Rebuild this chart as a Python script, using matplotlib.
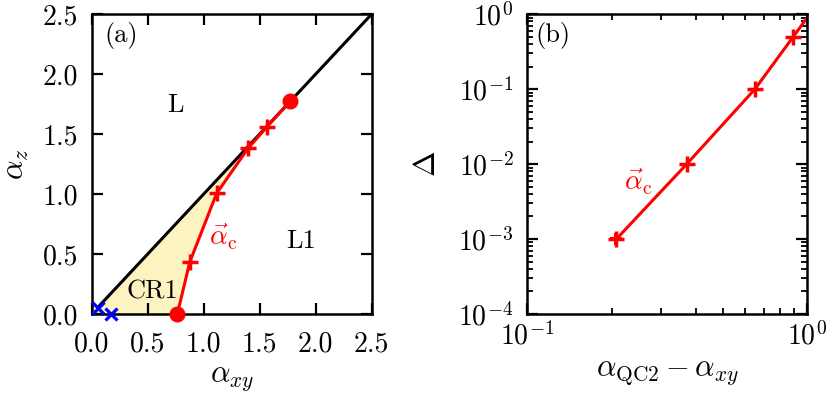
import matplotlib
matplotlib.use('Agg')
import matplotlib.pyplot as plt
from matplotlib.ticker import FuncFormatter, LogLocator, MultipleLocator, NullFormatter
import numpy as np

plt.rcParams['font.family'] = 'serif'
plt.rcParams['font.serif'] = ['cmr10']
plt.rcParams['mathtext.fontset'] = 'cm'
plt.rcParams['axes.formatter.use_mathtext'] = True
plt.rcParams['axes.unicode_minus'] = False

# panel (a): phase diagram
diag_x = [0.06, 2.5]
diag_z = [0.06, 2.5]
crit_xy = [0.765, 0.875, 1.115, 1.395, 1.565, 1.775]
crit_z = [0.0, 0.43, 1.005, 1.38, 1.56, 1.775]
cross_xy = [0.055, 0.17]
cross_z = [0.05, 0.0]
fill_xy = [0.0, 1.36, 1.115, 0.875, 0.765]
fill_z = [0.0, 1.36, 1.005, 0.43, 0.0]

# panel (b): gap vs distance
dist = [0.208, 0.371, 0.650, 0.891, 1.0]
gap = [1e-3, 1e-2, 1e-1, 0.5, 0.9]

fs = 20   # tick labels
fsl = 22  # axis labels
fst = 19  # annotations
red = '#ff0000'

fig = plt.figure(figsize=(8.32, 3.93), dpi=100)
ax1 = fig.add_axes([0.1102, 0.201, 0.3365, 0.763])
ax2 = fig.add_axes([0.6338, 0.201, 0.3365, 0.763])

ax1.fill(fill_xy, fill_z, color='#fcf3c0', lw=0, zorder=1)
ax1.plot(diag_x, diag_z, color='k', lw=2.2, zorder=2)
ax1.plot(crit_xy, crit_z, color=red, lw=2.2, zorder=3)
ax1.plot(crit_xy[1:-1], crit_z[1:-1], ls='none', marker='+', ms=11, mew=2.5, color=red, zorder=4)
ax1.plot([crit_xy[0], crit_xy[-1]], [crit_z[0], crit_z[-1]], ls='none', marker='o', ms=10.5,
         color=red, clip_on=False, zorder=5)
ax1.plot(cross_xy, cross_z, ls='none', marker='x', ms=9, mew=2.3, color='#0000ff', clip_on=False, zorder=6)

ax1.text(0.045, 0.93, '(a)', transform=ax1.transAxes, fontsize=fst, va='center', ha='left')
ax1.text(0.745, 1.74, 'L', fontsize=fst, ha='center', va='center')
ax1.text(1.87, 0.61, 'L1', fontsize=fst, ha='center', va='center')
ax1.text(0.54, 0.19, 'CR1', fontsize=fst, ha='center', va='center')
ax1.text(1.18, 0.64, r'$\vec{\alpha}_{\rm c}$', fontsize=fst + 1, color=red, ha='center', va='center')

ax1.set_xlim(0, 2.5)
ax1.set_ylim(0, 2.5)
ax1.xaxis.set_major_locator(MultipleLocator(0.5))
ax1.yaxis.set_major_locator(MultipleLocator(0.5))
ax1.xaxis.set_major_formatter(FuncFormatter(lambda v, p: '{0:.1f}'.format(v)))
ax1.yaxis.set_major_formatter(FuncFormatter(lambda v, p: '{0:.1f}'.format(v)))
ax1.set_xlabel(r'$\alpha_{xy}$', fontsize=fsl, labelpad=6)
ax1.set_ylabel(r'$\alpha_z$', fontsize=fsl, labelpad=8)

ax2.plot(dist, gap, color=red, lw=2.2)
ax2.plot(dist[:-1], gap[:-1], ls='none', marker='+', ms=11, mew=2.5, color=red)
ax2.plot(dist[:1], gap[:1], ls='none', marker='P', ms=8, mew=0, color=red)
ax2.text(0.03, 0.93, '(b)', transform=ax2.transAxes, fontsize=fst, va='center', ha='left')
ax2.text(0.25, 5.8e-3, r'$\vec{\alpha}_{\rm c}$', fontsize=fst + 1, color=red, ha='center', va='center')

ax2.set_xscale('log')
ax2.set_yscale('log')
ax2.set_xlim(0.1, 1.0)
ax2.set_ylim(1e-4, 1.0)
ax2.xaxis.set_major_locator(LogLocator(base=10, numticks=10))
ax2.yaxis.set_major_locator(LogLocator(base=10, numticks=10))
ax2.xaxis.set_minor_locator(LogLocator(base=10, subs=np.arange(2, 10), numticks=10))
ax2.yaxis.set_minor_locator(LogLocator(base=10, subs=np.arange(2, 10), numticks=10))
logfmt = FuncFormatter(lambda v, p: r'$10^{%d}$' % int(round(np.log10(v))))
ax2.xaxis.set_major_formatter(logfmt)
ax2.yaxis.set_major_formatter(logfmt)
ax2.xaxis.set_minor_formatter(NullFormatter())
ax2.yaxis.set_minor_formatter(NullFormatter())
ax2.set_xlabel(r'$\alpha_{\rm QC2}-\alpha_{xy}$', fontsize=fsl, labelpad=6)
ax2.set_ylabel(r'$\Delta$', fontsize=fsl, labelpad=12)

for ax in (ax1, ax2):
    for s in ax.spines.values():
        s.set_linewidth(1.8)
    ax.tick_params(which='major', direction='in', top=True, right=True, length=8, width=1.6,
                   labelsize=fs, pad=10)
    ax.tick_params(which='minor', direction='in', top=True, right=True, length=4, width=1.3)
ax1.tick_params(axis='x', which='major', pad=12)
ax2.tick_params(axis='x', which='major', pad=6)

fig.savefig('out.png', dpi=100)
